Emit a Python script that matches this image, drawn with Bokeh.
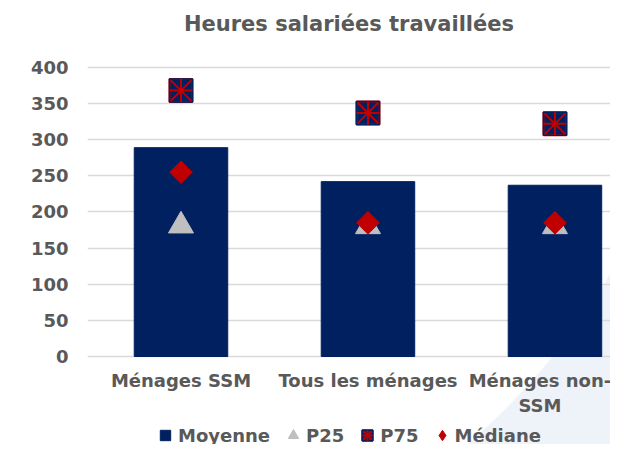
from bokeh.plotting import figure
from bokeh.models import Range1d, FixedTicker, Legend, LegendItem, Label
from bokeh.core.properties import value
from bokeh.embed import file_html
from bokeh.resources import INLINE

title_text = "Heures salariées travaillées"
categories = ["Ménages SSM", "Tous les ménages", "Ménages non-\nSSM"]
moyenne = [289, 242, 237]
p25 = [181, 180, 180]
p75 = [368, 337, 322]
mediane = [255, 185, 185]
y_ticks = [0, 50, 100, 150, 200, 250, 300, 350, 400]

TXT = "#595959"
FONT = "DejaVu Sans"
NAVY = "#002060"
RED = "#c00000"
GREY = "#bfbfbf"

x = list(range(len(categories)))
label_dx = [0, 0, -15]   # keep the last category label inside the canvas

p = figure(width=610, height=444, output_backend="svg", toolbar_location=None,
           x_range=Range1d(-0.5, 2.297), y_range=Range1d(-121.8, 492.7),
           min_border_left=87, min_border_right=0, min_border_top=0, min_border_bottom=0)
p.outline_line_color = None
p.background_fill_alpha = 0
p.border_fill_alpha = 0
p.styles = {"background-image":
            "radial-gradient(circle 697px at 11px -82px, #ffffff 696px, #eef2f9 697.5px)"}

p.add_layout(Label(x=261.5, y=421, x_units="screen", y_units="screen", text=title_text,
                   text_align="center", text_baseline="middle", text_font=FONT,
                   text_font_style="bold", text_font_size="21px", text_color=TXT))

bars = p.vbar(x=x, top=moyenne, width=0.5, fill_color=NAVY, line_color=NAVY)
bar_key = p.scatter(x=x, y=moyenne, marker="square", size=0, fill_color=NAVY, line_color=NAVY)
tri = p.scatter(x=x, y=p25, marker="triangle", size=25, fill_color=GREY, line_color=GREY)
sq = p.scatter(x=x, y=p75, marker="square_x", size=23, fill_color=NAVY, line_color=RED, line_width=2)
sq2 = p.scatter(x=x, y=p75, marker="square", size=23, fill_color=None, line_color=NAVY, line_width=1.5)
cr = p.scatter(x=x, y=p75, marker="cross", size=23, line_color=RED, line_width=2)
dia = p.scatter(x=x, y=mediane, marker="square", angle=0.785398, size=16, fill_color=RED, line_color=RED)
dia_key = p.scatter(x=x, y=mediane, marker="diamond", size=0, fill_color=RED, line_color=RED)

# category labels under the baseline
p.text(x=x, y=0, text=categories, x_offset=label_dx, y_offset=14, text_align="center",
       text_baseline="top", text_font=value(FONT), text_font_style="bold",
       text_font_size="18px", text_color=TXT, text_line_height=1.17)

p.xgrid.visible = False
p.xaxis.visible = False
p.ygrid.grid_line_color = "#d9d9d9"
p.ygrid.grid_line_width = 1.5
p.ygrid.ticker = FixedTicker(ticks=y_ticks)

p.yaxis.ticker = FixedTicker(ticks=y_ticks)
p.yaxis.axis_line_color = None
p.yaxis.major_tick_line_color = None
p.yaxis.minor_tick_line_color = None
p.yaxis.major_tick_out = 0
p.yaxis.major_label_standoff = 19
p.yaxis.major_label_text_font = FONT
p.yaxis.major_label_text_font_style = "bold"
p.yaxis.major_label_text_font_size = "18px"
p.yaxis.major_label_text_color = TXT

legend = Legend(items=[
    LegendItem(label="Moyenne", renderers=[bar_key]),
    LegendItem(label="P25", renderers=[tri]),
    LegendItem(label="P75", renderers=[sq, sq2, cr]),
    LegendItem(label="Médiane", renderers=[dia_key]),
], orientation="horizontal", location=(65, -4))
legend.background_fill_alpha = 0
legend.border_line_alpha = 0
legend.padding = 0
legend.margin = 0
legend.spacing = 10
legend.glyph_width = 26
legend.glyph_height = 26
legend.label_standoff = 0
legend.label_text_font = FONT
legend.label_text_font_style = "bold"
legend.label_text_font_size = "18px"
legend.label_text_color = TXT
p.add_layout(legend, "center")

open("out.html", "w").write(file_html(p, INLINE))
